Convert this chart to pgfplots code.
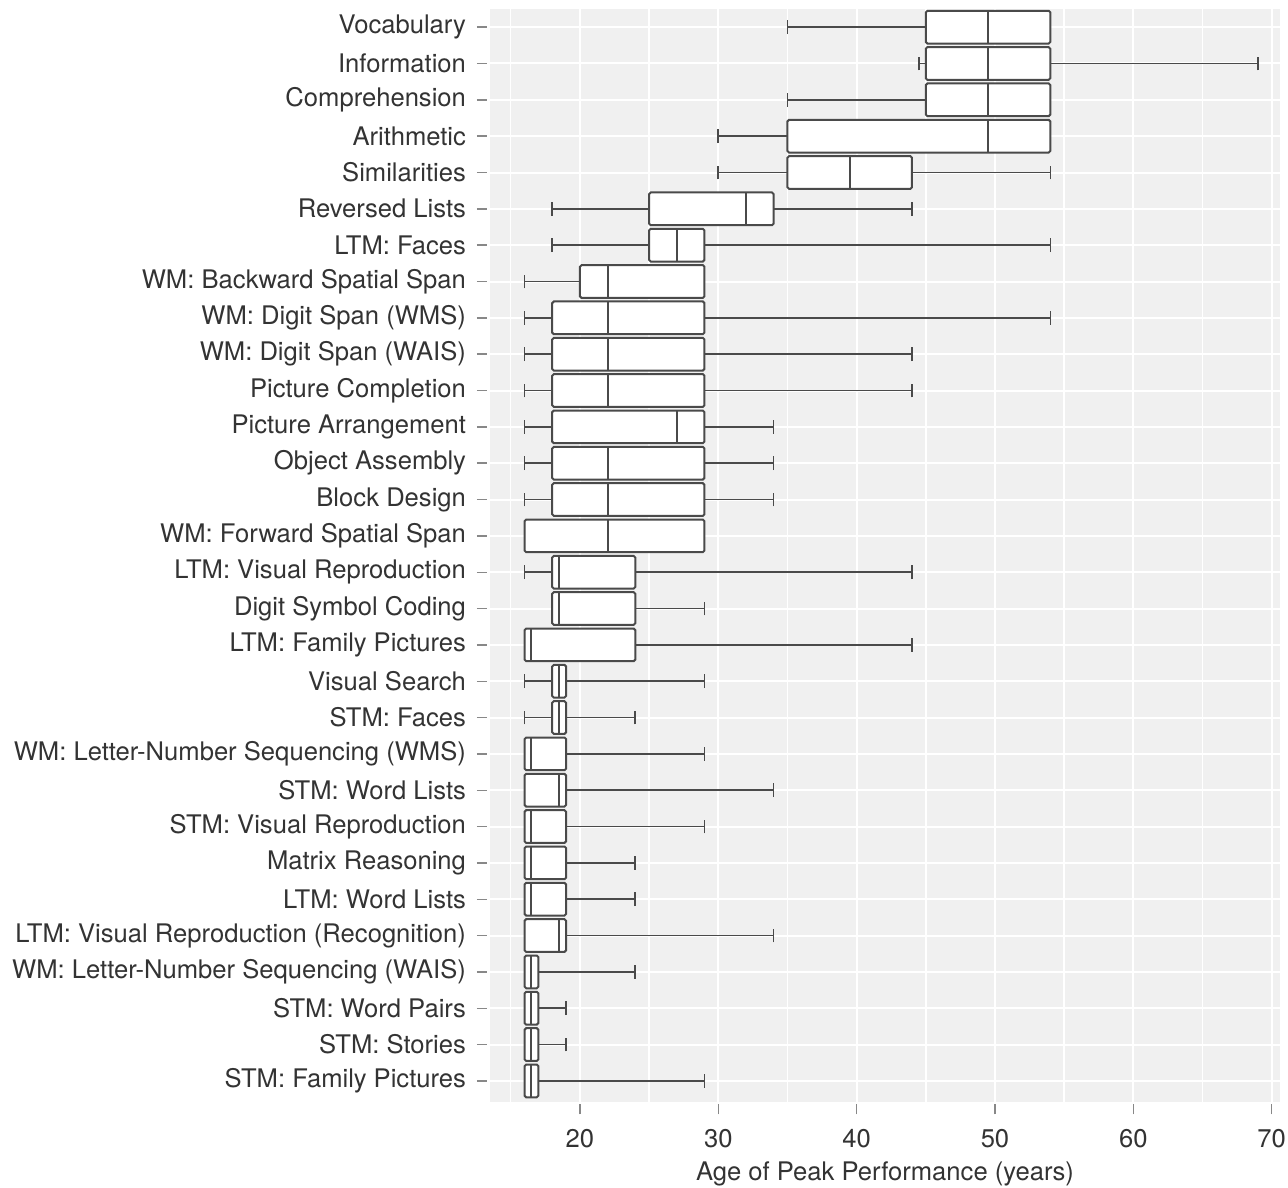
\documentclass[border=0pt]{standalone}
\usepackage{fontspec}
\setmainfont{TeX Gyre Heros}
\usepackage{pgfplots}
\pgfplotsset{compat=1.18}
\usepgfplotslibrary{statistics}
\definecolor{panel}{HTML}{F0F0F0}
\definecolor{boxc}{HTML}{4A4A4A}
\definecolor{txt}{HTML}{333333}
\definecolor{tickc}{HTML}{888888}
\newcommand{\bp}[6]{\addplot[boxplot prepared={lower whisker=#1, lower quartile=#2, median=#3, upper quartile=#4, upper whisker=#5, draw position=#6}] coordinates {};}
\begin{document}
\begin{tikzpicture}
\begin{axis}[name=ax,
 scale only axis, width=395pt, height=546.5pt,
 xmin=13.5, xmax=70.6, ymin=-0.58, ymax=29.5,
 axis line style={draw=none},
 axis background/.style={fill=panel},
 xtick={20,30,...,70}, minor xtick={15,25,...,65},
 ytick={0,...,29},
 yticklabels={STM: Family Pictures, STM: Stories, STM: Word Pairs, WM: Letter-Number Sequencing (WAIS), LTM: Visual Reproduction (Recognition), LTM: Word Lists, Matrix Reasoning, STM: Visual Reproduction, STM: Word Lists, WM: Letter-Number Sequencing (WMS), STM: Faces, Visual Search, LTM: Family Pictures, Digit Symbol Coding, LTM: Visual Reproduction, WM: Forward Spatial Span, Block Design, Object Assembly, Picture Arrangement, Picture Completion, WM: Digit Span (WAIS), WM: Digit Span (WMS), WM: Backward Spatial Span, LTM: Faces, Reversed Lists, Similarities, Arithmetic, Comprehension, Information, Vocabulary},
 xtick pos=bottom, ytick pos=left,
 tick align=outside,
 major tick length=5pt, minor tick length=0pt,
 xtick style={draw=tickc, line width=0.7pt, yshift=-1.2pt},
 ytick style={draw=tickc, line width=0.7pt, xshift=-1.5pt},
 xmajorgrids, xminorgrids, ymajorgrids,
 major grid style={white, line width=1pt},
 minor grid style={white, line width=0.7pt},
 ticklabel style={font=\fontsize{12.8}{15}\selectfont, text=txt},
 yticklabel style={xshift=-3.5pt},
 xticklabel style={yshift=-5pt},
 /pgf/number format/assume math mode=true,
 xlabel={Age of Peak Performance (years)},
 xlabel style={font=\fontsize{12.8}{15}\selectfont, text=txt, yshift=0pt},
 boxplot/box extend=0.9,
 boxplot/whisker extend=0.38,
 boxplot/every box/.style={fill=white, draw=boxc, line width=1pt, rounded corners=0.8pt},
 boxplot/every whisker/.style={draw=boxc, line width=0.8pt},
 boxplot/every median/.style={draw=boxc, line width=1pt},
]
\bp{35}{45}{49.5}{54}{54}{29}
\bp{44.5}{45}{49.5}{54}{69}{28}
\bp{35}{45}{49.5}{54}{54}{27}
\bp{30}{35}{49.5}{54}{54}{26}
\bp{30}{35}{39.5}{44}{54}{25}
\bp{18}{25}{32}{34}{44}{24}
\bp{18}{25}{27}{29}{54}{23}
\bp{16}{20}{22}{29}{29}{22}
\bp{16}{18}{22}{29}{54}{21}
\bp{16}{18}{22}{29}{44}{20}
\bp{16}{18}{22}{29}{44}{19}
\bp{16}{18}{27}{29}{34}{18}
\bp{16}{18}{22}{29}{34}{17}
\bp{16}{18}{22}{29}{34}{16}
\bp{16}{16}{22}{29}{29}{15}
\bp{16}{18}{18.5}{24}{44}{14}
\bp{18}{18}{18.5}{24}{29}{13}
\bp{16}{16}{16.5}{24}{44}{12}
\bp{16}{18}{18.5}{19}{29}{11}
\bp{16}{18}{18.5}{19}{24}{10}
\bp{16}{16}{16.5}{19}{29}{9}
\bp{16}{16}{18.5}{19}{34}{8}
\bp{16}{16}{16.5}{19}{29}{7}
\bp{16}{16}{16.5}{19}{24}{6}
\bp{16}{16}{16.5}{19}{24}{5}
\bp{16}{16}{18.5}{19}{34}{4}
\bp{16}{16}{16.5}{17}{24}{3}
\bp{16}{16}{16.5}{17}{19}{2}
\bp{16}{16}{16.5}{17}{19}{1}
\bp{16}{16}{16.5}{17}{29}{0}
\end{axis}
\pgfresetboundingbox
\path[use as bounding box] ([xshift=-245pt,yshift=-43pt]ax.south west) rectangle ([xshift=4pt,yshift=4.5pt]ax.north east);
\end{tikzpicture}
\end{document}
